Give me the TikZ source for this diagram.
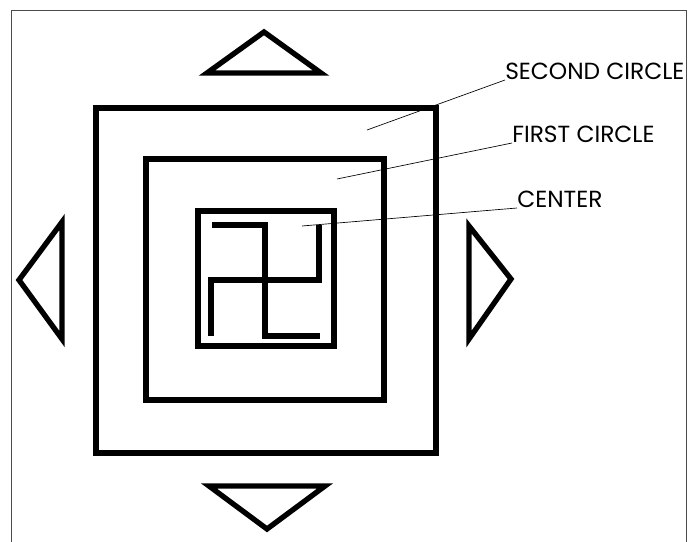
\documentclass[tikz,border=0pt]{standalone}
\usepackage{fontspec}
\setmainfont{Poppins}
\usetikzlibrary{positioning}

\tikzset{
  ring/.style={line width=4.8pt, line join=miter},
  arrowtri/.style={line width=4pt, line join=miter},
  caption/.style={anchor=south west, inner sep=0pt, font=\fontsize{17.5}{20}\selectfont},
  leader/.style={line width=0.5pt}
}

\begin{document}
\begin{tikzpicture}[x=0.75pt, y=-0.75pt]
  \useasboundingbox (0,0) rectangle (696,542);

  % Frame
  \draw[line width=0.6pt, black!70] (11,542) -- (11,10) -- (686,10) -- (686,542);

  % Nested squares
  \foreach \a/\b/\c/\d in {96/108/436/453, 146/159/384/400, 198/211/334/346} {
    \draw[ring] (\a,\b) rectangle (\c,\d);
  }

  % Cross with bent arms
  \draw[ring, line cap=butt] (212,225) -- (265,225) -- (265,336) -- (320,336);
  \draw[ring, line cap=butt] (211,336) -- (211,280) -- (319,280) -- (319,225);

  % Direction triangles
  \draw[arrowtri] (264,32) -- (321,73) -- (207,73) -- cycle;
  \draw[arrowtri] (267,529) -- (209,486) -- (325,486) -- cycle;
  \draw[arrowtri] (19,280) -- (62,222) -- (62,339) -- cycle;
  \draw[arrowtri] (511,279) -- (469,226) -- (469,339) -- cycle;

  % Labels
  \node[caption] (second) at (505,80) {SECOND CIRCLE};
  \node[caption] (first) at (512,143) {FIRST CIRCLE};
  \node[caption] (centre) at (517,208) {CENTER};

  \coordinate (p2) at (367,130);
  \coordinate (p1) at (337,179);
  \coordinate (p0) at (302,226);

  \draw[leader] (second.south west) -- (p2);
  \draw[leader] (first.south west) -- (p1);
  \draw[leader] (centre.south west) -- (p0);
\end{tikzpicture}
\end{document}
